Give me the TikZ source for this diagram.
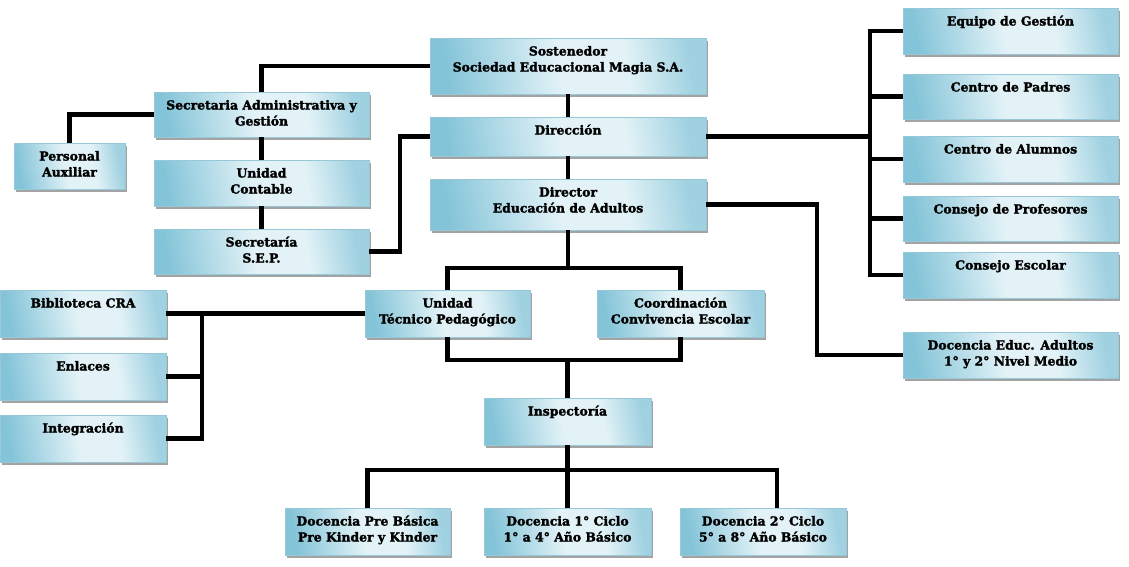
\documentclass[tikz,border=0pt]{standalone}
\usepackage{fontspec}
\setmainfont{DejaVu Serif}[BoldFeatures={FakeBold=2}]
\usetikzlibrary{shadows,calc}
\definecolor{bdk}{RGB}{132,196,216}
\definecolor{blt}{RGB}{226,242,247}
\definecolor{bmd}{RGB}{160,209,225}
\definecolor{bedge}{RGB}{150,200,215}
\pgfdeclarehorizontalshading{boxsh}{100bp}{color(0bp)=(bdk); color(25bp)=(bdk); color(48bp)=(blt); color(62bp)=(blt); color(75bp)=(bmd); color(100bp)=(bmd)}
\tikzset{
  orgbox/.style={draw=bedge, line width=0.4pt, inner sep=0pt, outer sep=0pt,
    shading=boxsh, shading angle=10, anchor=north west,
    drop shadow={shadow xshift=2pt, shadow yshift=-2.5pt, fill=black!45, opacity=0.8}},
  link/.style={line width=4.2pt, black}
}
\newcommand\bx[6]{%
  \node[orgbox, minimum width=#4pt, minimum height=#5pt] (#1) at (#2,#3)
  {\begin{minipage}[c][#5pt][t]{#4pt}\centering\fontsize{12.4}{16}\selectfont\bfseries\rule{0pt}{17.5pt}#6\end{minipage}};}
\begin{document}
\begin{tikzpicture}[x=1pt,y=-1pt]
\useasboundingbox (0,0) rectangle (1129,566);
\fill[white] (0,0) rectangle (1129,566);
% boxes
\bx{sost}{430}{38}{276}{56}{Sostenedor\\Sociedad Educacional Magia S.A.}
\bx{dir}{430}{117}{276}{39}{Dirección}
\bx{diread}{430}{179}{276}{51}{Director\\Educación de Adultos}
\bx{secadm}{154}{92}{215}{45}{Secretaria Administrativa y\\Gestión}
\bx{pers}{14}{143}{111}{46}{Personal\\Auxiliar}
\bx{ucont}{154}{160}{215}{46}{Unidad\\Contable}
\bx{sep}{154}{229}{215}{45}{Secretaría\\S.E.P.}
\bx{eq}{903}{8}{215}{46}{Equipo de Gestión}
\bx{cpad}{903}{74}{215}{45}{Centro de Padres}
\bx{calu}{903}{136}{215}{46}{Centro de Alumnos}
\bx{cprof}{903}{196}{215}{45}{Consejo de Profesores}
\bx{cesc}{903}{252}{215}{46}{Consejo Escolar}
\bx{doced}{903}{332}{215}{46}{Docencia Educ. Adultos\\1° y 2° Nivel Medio}
\bx{utp}{365}{290}{165}{47}{Unidad\\Técnico Pedagógico}
\bx{coord}{597}{290}{167}{47}{Coordinación\\Convivencia Escolar}
\bx{bib}{0}{290}{166}{47}{Biblioteca CRA}
\bx{enl}{0}{353}{166}{47}{Enlaces}
\bx{integ}{0}{415}{166}{47}{Integración}
\bx{insp}{484}{398}{167}{47}{Inspectoría}
\bx{dpre}{285}{508}{165}{47}{Docencia Pre Básica\\Pre Kinder y Kinder}
\bx{dcic}{484}{508}{167}{47}{Docencia 1° Ciclo\\1° a 4° Año Básico}
\bx{dcii}{680}{508}{166}{47}{Docencia 2° Ciclo\\5° a 8° Año Básico}
% bus coordinates
\coordinate (rb) at (870,136.5);
\coordinate (lb) at (202,313.5);
\coordinate (tb) at ($(diread.south)+(0,38)$);
\coordinate (bb) at ($(insp.north)+(0,-38)$);
\coordinate (ib) at ($(insp.south)+(0,25)$);
% links
\draw[link] (sost.west) -| (secadm.north);
\draw[link] (secadm.west) -| (pers.north);
\draw[link] (secadm.south) -- (ucont.north);
\draw[link] (ucont.south) -- (sep.north);
\draw[link] (sep.east) -- ++(31,0) |- (dir.west);
\draw[link] (sost.south) -- (dir.north);
\draw[link] (dir.south) -- (diread.north);
\draw[link] (dir.east) -- (rb);
\draw[link] (eq.west) -| (cesc.west -| rb) -- (cesc.west);
\draw[link] (cpad.west) -- (cpad.west -| rb);
\draw[link] (calu.west) -- (calu.west -| rb);
\draw[link] (cprof.west) -- (cprof.west -| rb);
\draw[link] (diread.east) -- ++(111,0) |- (doced.west);
\draw[link] (diread.south) -- (tb);
\draw[link] (utp.north) |- (tb) -| (coord.north);
\draw[link] (utp.south) |- (bb) -| (coord.south);
\draw[link] (bb) -- (insp.north);
\draw[link] (utp.west) -- (bib.east);
\draw[link] (lb) |- (integ.east);
\draw[link] (enl.east) -- (enl.east -| lb);
\draw[link] (insp.south) -- (dcic.north);
\draw[link] (dpre.north) |- (ib) -| ($(dcii.north west)+(97,0)$);
\end{tikzpicture}
\end{document}
